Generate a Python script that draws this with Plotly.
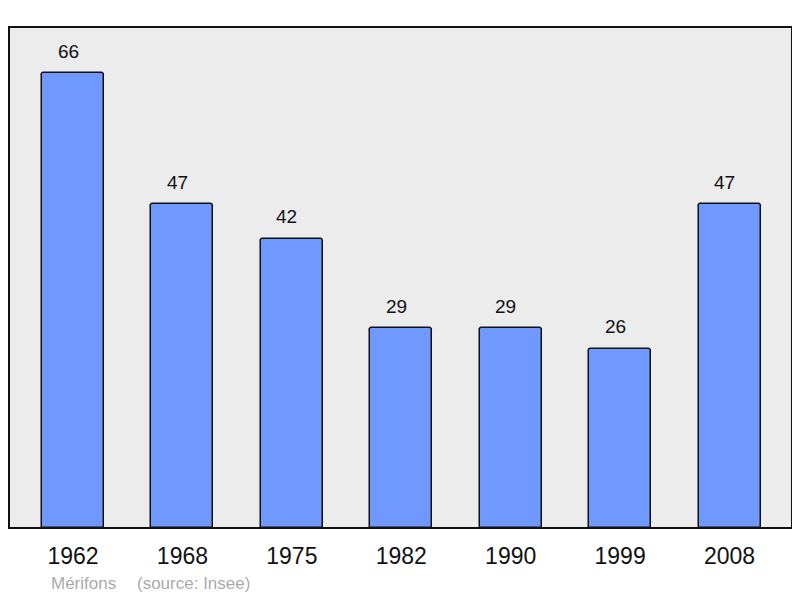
import plotly.graph_objects as go

years = ["1962", "1968", "1975", "1982", "1990", "1999", "2008"]
population = [66, 47, 42, 29, 29, 26, 47]
positions = list(range(len(years)))

fig = go.Figure()
fig.add_trace(go.Bar(
    x=positions, y=population, width=0.567,
    marker=dict(color="#7099ff", line=dict(color="#111111", width=1.5), cornerradius=3),
    hoverinfo="skip",
))

for xv, yv in zip(positions, population):
    fig.add_annotation(x=xv, y=yv, text=str(yv), showarrow=False, yshift=22, xshift=-5,
                       font=dict(family="Liberation Sans, Arial", size=19, color="#111111"))

src_y = -(583 - 528) / 501
fig.add_annotation(xref="paper", yref="paper", x=(49 - 9) / 783, y=src_y,
                   xanchor="left", yanchor="middle", text="Mérifons", showarrow=False,
                   font=dict(family="Liberation Sans, Arial", size=17, color="#aaaaaa"))
fig.add_annotation(xref="paper", yref="paper", x=(135 - 9) / 783, y=src_y,
                   xanchor="left", yanchor="middle", text="(source: Insee)", showarrow=False,
                   font=dict(family="Liberation Sans, Arial", size=17, color="#aaaaaa"))

fig.add_shape(type="rect", xref="paper", yref="paper", x0=0, y0=0, x1=1, y1=1,
              line=dict(color="#111111", width=2), layer="above")

fig.update_layout(
    width=792, height=590,
    margin=dict(l=1, r=8, t=19, b=70),
    paper_bgcolor="white", plot_bgcolor="#ececec",
    showlegend=False,
    bargap=0,
    xaxis=dict(range=[-0.585, 6.571], tickvals=positions, ticktext=years,
               showgrid=False, zeroline=False, ticks="outside", ticklen=7, tickcolor="rgba(0,0,0,0)",
               tickfont=dict(family="Liberation Sans, Arial", size=23, color="#111111"), fixedrange=True),
    yaxis=dict(range=[0, 72.7], showgrid=False, zeroline=False, showticklabels=False, fixedrange=True),
)

fig.write_html("out.html")
